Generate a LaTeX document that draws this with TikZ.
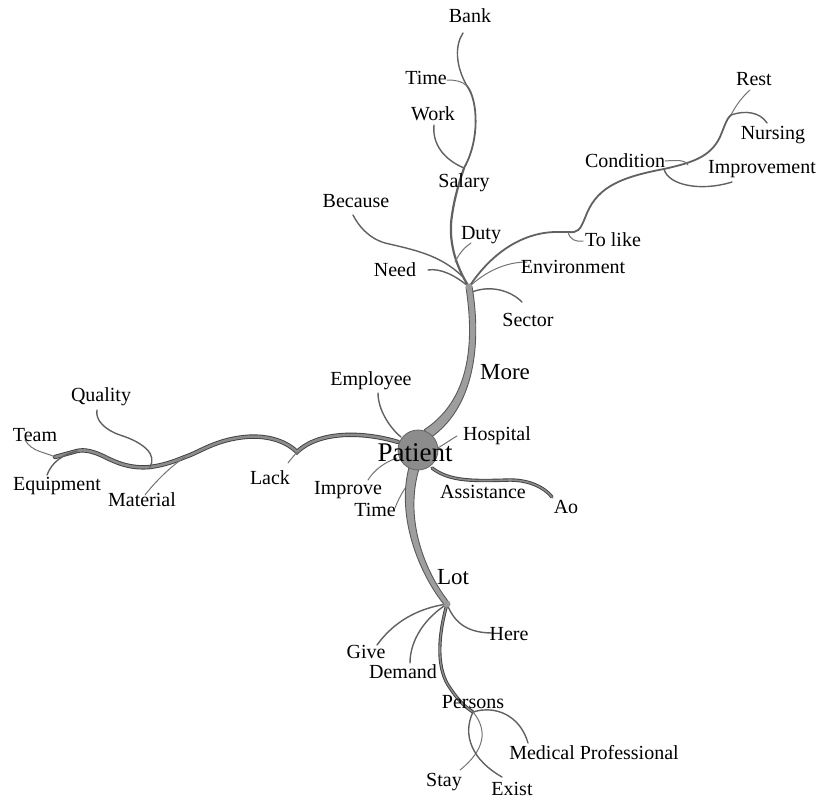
\documentclass[tikz,border=0pt]{standalone}
\usepackage{fontspec}
\setmainfont{Liberation Serif}
\begin{document}
\begin{tikzpicture}[x=1pt,y=-1pt,
  lbl/.style={inner sep=0pt,font=\fontsize{20}{23}\selectfont},
  biglbl/.style={inner sep=0pt,font=\fontsize{23}{27}\selectfont},
  twig/.style={draw=black!62,line width=1.4pt,line cap=round},
  thintwig/.style={draw=black!55,line width=1pt,line cap=round},
  limb/.style={draw=black!75,line width=0.9pt,double=black!45,double distance=2.6pt,line cap=round},
  trunkfill/.style={fill=black!38,draw=black!65,line width=0.9pt,line join=round},
  knob/.style={circle,fill=black!40,inner sep=0pt,minimum size=7pt},
  hub/.style={circle,fill=black!45,draw=black!60,line width=0.8pt,minimum size=40pt,inner sep=0pt}]
\useasboundingbox (0,0) rectangle (818,800);
\fill[white] (0,0) rectangle (818,800);

% ---- junction and end coordinates
\coordinate (P) at (418,450);
\coordinate (J1) at (469,287);
\coordinate (J2) at (464,168);
\coordinate (Jbank) at (467,86);
\coordinate (J3) at (447,604);
\coordinate (J4) at (473,712);
\coordinate (Jlike) at (568,232);
\coordinate (Jcond) at (664,169);
\coordinate (Jrest) at (731,115);
\coordinate (Jlack) at (297,452);
\coordinate (Jmat) at (185,457);
\coordinate (Jqual) at (150,467);
\coordinate (Jequip) at (77,451);
\coordinate (eLeft) at (55,457);

% stem to salary
\draw[twig,line width=2.2pt] (J1) .. controls (455,265) and (448,240) .. (452,215) .. controls (455,195) and (460,180) .. (J2);
\draw[twig,line width=1.8pt] (J2) .. controls (480,140) and (478,100) .. (Jbank);
\draw[twig] (Jbank) .. controls (455,65) and (455,45) .. (463,33);
\draw[thintwig] (Jbank) .. controls (462,81) and (455,80) .. (447,80);
\draw[twig] (J2) .. controls (445,160) and (432,145) .. (434,125);
% branches at J1
\draw[twig] (462,276) .. controls (440,255) and (415,250) .. (385,243) .. controls (368,238) and (358,225) .. (353,215);
\draw[thintwig] (455,262) .. controls (460,252) and (465,247) .. (471,243);
\draw[twig] (J1) .. controls (455,275) and (440,268) .. (428,270);
\draw[thintwig] (J1) .. controls (485,272) and (505,262) .. (527,262);
\draw[twig] (472,292) .. controls (490,285) and (510,290) .. (522,302);
% long branch to the right
\draw[twig,line width=1.8pt] (J1) .. controls (490,255) and (520,233) .. (555,232) -- (Jlike) .. controls (578,233) and (580,230) .. (585,218) .. controls (595,190) and (615,178) .. (Jcond) .. controls (690,163) and (710,158) .. (720,137) .. controls (725,125) and (727,118) .. (Jrest);
\draw[thintwig] (Jlike) .. controls (570,240) and (576,242) .. (583,241);
\draw[thintwig] (Jrest) .. controls (735,107) and (741,98) .. (750,90);
\draw[twig] (Jrest) .. controls (745,110) and (760,112) .. (767,123);
\draw[thintwig] (688,165) .. controls (685,160) and (678,160) .. (665,161);
\draw[twig] (Jcond) .. controls (668,185) and (700,192) .. (732,182);

% ---- upper trunk (tapered)
\filldraw[trunkfill] (424.2,429.8) .. controls (475.5,396.3) and (472.5,330.6) .. (466,287.5) -- (472,286.5) .. controls (479.5,329.4) and (480.5,403.7) .. (429.8,438.2) -- cycle;
\node[knob] (k1) at (J1) {};

% ---- left limb
\draw[limb] (398,442) .. controls (365,432) and (320,430) .. (Jlack) .. controls (285,440) and (265,435) .. (245,437) .. controls (215,440) and (200,452) .. (Jmat) .. controls (175,461) and (165,465) .. (Jqual) .. controls (130,469) and (115,462) .. (105,457) .. controls (95,452) and (85,449) .. (Jequip) -- (eLeft);
\draw[thintwig] (Jlack) .. controls (293,457) and (290,460) .. (288,463);
\draw[twig] (Jqual) .. controls (157,455) and (145,443) .. (120,435) .. controls (105,430) and (95,420) .. (97,410);
\draw[thintwig] (Jmat) .. controls (170,467) and (155,482) .. (145,495);
\draw[thintwig] (eLeft) .. controls (45,452) and (32,452) .. (25,440);
\draw[twig] (Jequip) .. controls (62,455) and (52,462) .. (47,475);

% ---- around Patient
\draw[twig] (401,437) .. controls (390,428) and (378,410) .. (378,393);
\draw[thintwig] (434,450) .. controls (442,446) and (450,440) .. (457,436);
\draw[thintwig] (397,458) .. controls (385,462) and (374,470) .. (368,480);
\draw[thintwig] (410,482) .. controls (403,490) and (398,500) .. (395,508);
\draw[limb,double distance=1.6pt] (432,468) .. controls (450,482) and (475,481) .. (510,480) .. controls (530,480) and (545,488) .. (552,497);

% ---- lower branches
\draw[twig] (J3) .. controls (455,625) and (470,633) .. (493,633);
\draw[twig] (J3) .. controls (420,608) and (395,620) .. (377,645);
\draw[twig] (J3) .. controls (425,618) and (410,640) .. (410,663);
\draw[limb,double distance=1.4pt] (J3) .. controls (437,640) and (437,670) .. (450,688) .. controls (458,700) and (465,707) .. (J4);
\draw[twig] (J4) .. controls (495,705) and (520,715) .. (528,743);
\draw[thintwig] (J4) .. controls (488,730) and (485,750) .. (460,770);
\draw[twig] (J4) .. controls (462,735) and (472,760) .. (502,777);

% ---- lower trunk (tapered)
\filldraw[trunkfill] (418.8,469.4) .. controls (404.3,519.2) and (424.3,571.1) .. (449,602.4) -- (445,605.6) .. controls (419.7,574.9) and (395.7,516.8) .. (409.2,466.6) -- cycle;
\node[knob] (k3) at (J3) {};

% ---- hub
\node[hub] (hub) at (P) {};

% ---- labels
\node[lbl] (bank) at (470,16) {Bank};
\node[lbl] (time1) at (426,78) {Time};
\node[lbl] (work) at (433,114) {Work};
\node[lbl] (salary) at (464,183) {Salary};
\node[lbl] (because) at (356,201) {Because};
\node[lbl] (duty) at (481,235) {Duty};
\node[lbl] (need) at (395,270) {Need};
\node[lbl] (env) at (573,267) {Environment};
\node[lbl] (sector) at (528,320) {Sector};
\node[biglbl] (more) at (505,372) {More};
\node[lbl] (employee) at (371,381) {Employee};
\node[lbl] (hospital) at (497,436) {Hospital};
\node[inner sep=0pt,font=\fontsize{27}{31}\selectfont] (patient) at (415,453) {Patient};
\node[lbl] (assist) at (483,492) {Assistance};
\node[lbl] (ao) at (566,507) {Ao};
\node[lbl] (improve) at (348,490) {Improve};
\node[lbl] (time2) at (375,510) {Time};
\node[lbl] (lack) at (270,478) {Lack};
\node[lbl] (material) at (142,500) {Material};
\node[lbl] (equip) at (57,486) {Equipment};
\node[lbl] (team) at (35,435) {Team};
\node[lbl] (quality) at (101,397) {Quality};
\node[biglbl] (lot) at (453,577) {Lot};
\node[lbl] (here) at (509,634) {Here};
\node[lbl] (give) at (366,652) {Give};
\node[lbl] (demand) at (403,672) {Demand};
\node[lbl] (persons) at (473,702) {Persons};
\node[lbl] (medprof) at (594,753) {Medical Professional};
\node[lbl] (stay) at (444,782) {Stay};
\node[lbl] (exist) at (512,789) {Exist};
\node[lbl] (rest) at (754,79) {Rest};
\node[lbl] (nursing) at (773,135) {Nursing};
\node[lbl] (condition) at (625,161) {Condition};
\node[lbl] (improvement) at (762,169) {Improvement};
\node[lbl] (tolike) at (613,240) {To like};
\end{tikzpicture}
\end{document}
